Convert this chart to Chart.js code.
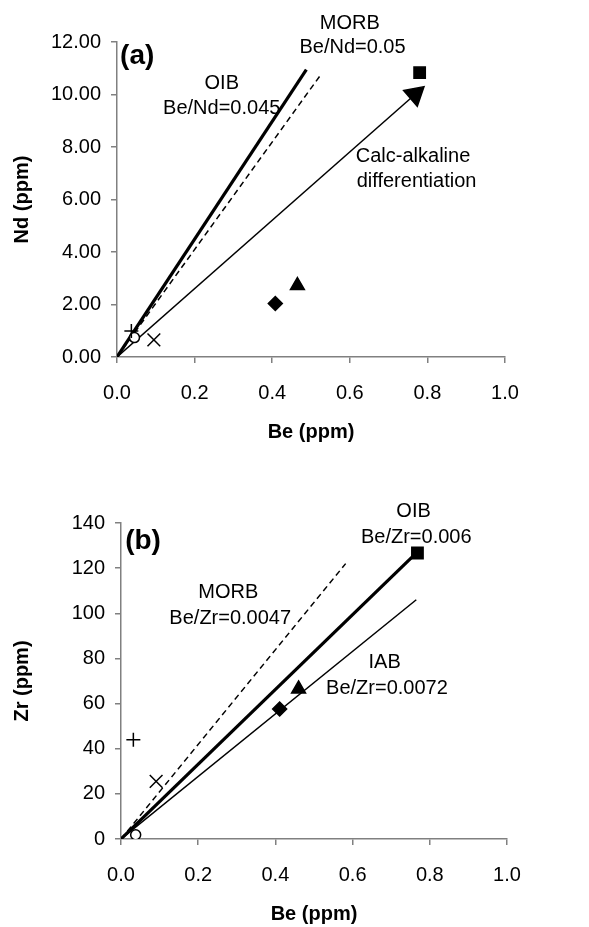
<!DOCTYPE html>
<html>
<head>
<meta charset="utf-8">
<script src="https://cdn.jsdelivr.net/npm/chart.js@4.4.1/dist/chart.umd.min.js"></script>
<style>
  html, body { margin: 0; padding: 0; background: #fff; }
  .panel { position: relative; width: 589px; }
  #panelA { height: 445px; }
  #panelB { height: 482px; }
</style>
</head>
<body>
<div class="panel" id="panelA"><canvas id="chartA"></canvas></div>
<div class="panel" id="panelB"><canvas id="chartB"></canvas></div>
<script>
// Sample markers, same order in both panels
const markers = ['square', 'triangle', 'diamond', 'plus', 'circle', 'cross'];

// Panel (a): Be vs Nd
const beA = [0.780, 0.465, 0.408, 0.037, 0.045, 0.095];
const ndA = [10.83, 2.72, 2.04, 0.99, 0.74, 0.65];

// Panel (b): Be vs Zr
const beB = [0.768, 0.460, 0.411, 0.032, 0.038, 0.091];
const zrB = [126.7, 66.5, 57.6, 44.0, 1.9, 25.5];

// Reference lines from the origin: OIB, MORB, calc-alkaline / IAB
const lineBeA = [0.488, 0.525, 0.768];
const lineNdA = [10.95, 10.75, 10.0];
const lineBeB = [0.770, 0.582, 0.765];
const lineZrB = [127.5, 122.0, 106.0];

// Tick labels
const xTicks = [0, 0.2, 0.4, 0.6, 0.8, 1.0];
const yTicksA = [0, 2, 4, 6, 8, 10, 12];
const yTicksB = [0, 20, 40, 60, 80, 100, 120, 140];

const FONT = 'Arial, "Liberation Sans", Helvetica, sans-serif';
const AXIS_GREY = '#808080';
const TXT = 20;

// marker look
const markerStyle = {
  square:   { pointStyle: 'rect',     radius: 8,   fill: '#000' },
  triangle: { pointStyle: 'triangle', radius: 8,   fill: '#000' },
  diamond:  { pointStyle: 'rectRot',  radius: 7,   fill: '#000' },
  plus:     { pointStyle: 'cross',    radius: 7,   fill: '#000' },
  circle:   { pointStyle: 'circle',   radius: 5,   fill: '#fff' },
  cross:    { pointStyle: 'crossRot', radius: 9,   fill: '#000' }
};

function markerSets(xs, ys) {
  return markers.map((m, i) => {
    const s = markerStyle[m];
    return {
      type: 'scatter',
      label: m,
      data: [{ x: xs[i], y: ys[i] }],
      pointStyle: s.pointStyle,
      pointRadius: s.radius,
      pointBackgroundColor: s.fill,
      pointBorderColor: '#000',
      pointBorderWidth: 1.5,
      order: 0
    };
  });
}

function refLine(x, y, width, dash) {
  return {
    type: 'line',
    data: [{ x: 0, y: 0 }, { x: x, y: y }],
    borderColor: '#000',
    borderWidth: width,
    borderDash: dash || [],
    pointRadius: 0,
    fill: false,
    order: 1
  };
}

// text drawn at data coordinates
const notesPlugin = {
  id: 'notes',
  afterDatasetsDraw(chart, args, opts) {
    const { ctx, scales } = chart;
    ctx.save();
    ctx.fillStyle = '#000';
    ctx.textAlign = 'center';
    ctx.textBaseline = 'middle';
    (opts.items || []).forEach(n => {
      ctx.font = (n.bold ? 'bold ' : '') + n.size + 'px ' + FONT;
      ctx.fillText(n.text, scales.x.getPixelForValue(n.x), scales.y.getPixelForValue(n.y));
    });
    ctx.restore();
  }
};

function axes(yTicks, yMax, yTitle, yFmt) {
  return {
    x: {
      type: 'linear', min: 0, max: 1.0,
      afterBuildTicks: s => { s.ticks = xTicks.map(v => ({ value: v })); },
      afterFit: s => { s.height = s.chart.options.xAxisHeight; },
      ticks: { color: '#000', font: { family: FONT, size: TXT }, padding: 18,
               callback: v => v.toFixed(1) },
      grid: { drawOnChartArea: false, drawTicks: true, tickLength: 6, color: AXIS_GREY, lineWidth: 1.5 },
      border: { color: AXIS_GREY, width: 1.5 },
      title: { display: true, text: 'Be (ppm)', color: '#000',
               font: { family: FONT, size: TXT, weight: 'bold' }, padding: { top: 0, bottom: 1 } }
    },
    y: {
      type: 'linear', min: 0, max: yMax,
      afterBuildTicks: s => { s.ticks = yTicks.map(v => ({ value: v })); },
      afterFit: s => { s.width = s.chart.options.yAxisWidth; },
      ticks: { color: '#000', font: { family: FONT, size: TXT }, padding: 10, callback: yFmt },
      grid: { drawOnChartArea: false, drawTicks: true, tickLength: 6, color: AXIS_GREY, lineWidth: 1.5 },
      border: { color: AXIS_GREY, width: 1.5 },
      title: { display: true, text: yTitle, color: '#000',
               font: { family: FONT, size: TXT, weight: 'bold' }, padding: { top: 10, bottom: 0 } }
    }
  };
}

function makeChart(id, datasets, scaleOpts, pad, yAxisWidth, xAxisHeight, notes) {
  return new Chart(document.getElementById(id), {
    data: { datasets },
    options: {
      responsive: true, maintainAspectRatio: false, animation: false,
      yAxisWidth, xAxisHeight,
      layout: { padding: pad },
      plugins: { legend: { display: false }, tooltip: { enabled: false }, notes: { items: notes } },
      scales: scaleOpts
    },
    plugins: [notesPlugin]
  });
}

// Panel (a)
const arrowLine = refLine(lineBeA[2], lineNdA[2], 1.5);
arrowLine.pointRadius = [0, 12];
arrowLine.pointStyle = 'triangle';
arrowLine.pointRotation = 49;
arrowLine.pointBackgroundColor = '#000';
arrowLine.pointBorderColor = '#000';

makeChart('chartA', [
  refLine(lineBeA[0], lineNdA[0], 3.2),
  refLine(lineBeA[1], lineNdA[1], 1.5, [6, 4]),
  arrowLine,
  ...markerSets(beA, ndA)
], axes(yTicksA, 12, 'Nd (ppm)', v => v.toFixed(2)),
  { top: 42, right: 84, bottom: 0, left: 0 }, 117, 88, [
  { text: '(a)', x: 0.052, y: 11.45, size: 28, bold: true },
  { text: 'OIB', x: 0.27, y: 10.42, size: TXT },
  { text: 'Be/Nd=0.045', x: 0.27, y: 9.45, size: TXT },
  { text: 'MORB', x: 0.60, y: 12.70, size: TXT },
  { text: 'Be/Nd=0.05', x: 0.607, y: 11.78, size: TXT },
  { text: 'Calc-alkaline', x: 0.763, y: 7.62, size: TXT },
  { text: 'differentiation', x: 0.772, y: 6.67, size: TXT }
]);

// Panel (b)
makeChart('chartB', [
  refLine(lineBeB[0], lineZrB[0], 3.2),
  refLine(lineBeB[1], lineZrB[1], 1.5, [6, 4]),
  refLine(lineBeB[2], lineZrB[2], 1.5),
  ...markerSets(beB, zrB)
], axes(yTicksB, 140, 'Zr (ppm)', v => String(v)),
  { top: 78, right: 82, bottom: 0, left: 0 }, 121, 88, [
  { text: '(b)', x: 0.057, y: 132.0, size: 28, bold: true },
  { text: 'OIB', x: 0.758, y: 145.0, size: TXT },
  { text: 'Be/Zr=0.006', x: 0.765, y: 133.8, size: TXT },
  { text: 'MORB', x: 0.278, y: 109.0, size: TXT },
  { text: 'Be/Zr=0.0047', x: 0.283, y: 97.5, size: TXT },
  { text: 'IAB', x: 0.683, y: 78.3, size: TXT },
  { text: 'Be/Zr=0.0072', x: 0.689, y: 66.8, size: TXT }
]);
</script>
</body>
</html>
